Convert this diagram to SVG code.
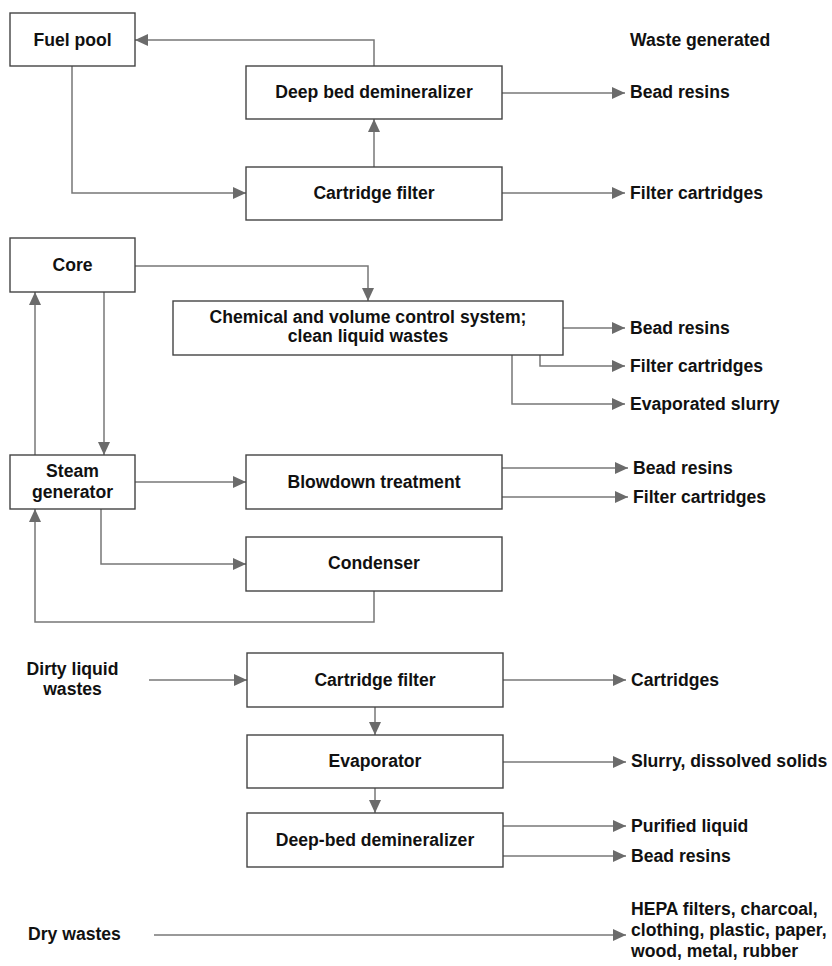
<svg xmlns="http://www.w3.org/2000/svg" width="832" height="966" viewBox="0 0 832 966">
<defs>
<style>
.box{fill:#fff;stroke:#444;stroke-width:1.4}
.t{font-family:"Liberation Sans",Arial,sans-serif;font-weight:bold;font-size:17.6px;fill:#111}
.c{text-anchor:middle}
.ln{fill:none;stroke:#777;stroke-width:1.5}
</style>
<marker id="ah" markerUnits="userSpaceOnUse" markerWidth="14" markerHeight="13" refX="13" refY="6" orient="auto">
<path d="M0,0 L13,6 L0,12 Z" fill="#6b6b6b"/>
</marker>
</defs>
<rect width="832" height="966" fill="#fff"/>

<g id="connectors">
<path class="ln" d="M374,66 V40 H135" marker-end="url(#ah)"/>
<path class="ln" d="M72,66 V193 H246" marker-end="url(#ah)"/>
<path class="ln" d="M374,167 V119" marker-end="url(#ah)"/>
<path class="ln" d="M502,93 H625" marker-end="url(#ah)"/>
<path class="ln" d="M502,193 H625" marker-end="url(#ah)"/>

<path class="ln" d="M135,266 H368 V301" marker-end="url(#ah)"/>
<path class="ln" d="M35,455 V292" marker-end="url(#ah)"/>
<path class="ln" d="M104,292 V455" marker-end="url(#ah)"/>
<path class="ln" d="M563,328 H625" marker-end="url(#ah)"/>
<path class="ln" d="M540,355 V366 H625" marker-end="url(#ah)"/>
<path class="ln" d="M512,355 V404 H625" marker-end="url(#ah)"/>
<path class="ln" d="M135,482 H246" marker-end="url(#ah)"/>
<path class="ln" d="M502,468 H628" marker-end="url(#ah)"/>
<path class="ln" d="M502,497 H628" marker-end="url(#ah)"/>
<path class="ln" d="M101,509 V564 H246" marker-end="url(#ah)"/>
<path class="ln" d="M374,591 V622 H35 V509" marker-end="url(#ah)"/>

<path class="ln" d="M149,680 H247" marker-end="url(#ah)"/>
<path class="ln" d="M503,680 H626" marker-end="url(#ah)"/>
<path class="ln" d="M375,707 V735" marker-end="url(#ah)"/>
<path class="ln" d="M503,762 H626" marker-end="url(#ah)"/>
<path class="ln" d="M375,788 V813" marker-end="url(#ah)"/>
<path class="ln" d="M503,826 H626" marker-end="url(#ah)"/>
<path class="ln" d="M503,856 H626" marker-end="url(#ah)"/>
<path class="ln" d="M154,935 H626" marker-end="url(#ah)"/>
</g>

<g id="fuel-pool"><rect class="box" x="10" y="13" width="125" height="53"/><text class="t c" x="72.5" y="46">Fuel pool</text></g>
<g id="waste-generated"><text class="t" x="630" y="46">Waste generated</text></g>
<g id="deep-bed-1"><rect class="box" x="246" y="66" width="256" height="53"/><text class="t c" x="374" y="98">Deep bed demineralizer</text></g>
<g id="out-bead-1"><text class="t" x="630" y="98">Bead resins</text></g>
<g id="cartridge-1"><rect class="box" x="246" y="167" width="256" height="53"/><text class="t c" x="374" y="199">Cartridge filter</text></g>
<g id="out-filter-1"><text class="t" x="630" y="199">Filter cartridges</text></g>

<g id="core"><rect class="box" x="10" y="238" width="125" height="54"/><text class="t c" x="72.5" y="271">Core</text></g>
<g id="cvcs"><rect class="box" x="173" y="301" width="390" height="54"/><text class="t c" x="368" y="323">Chemical and volume control system;</text><text class="t c" x="368" y="342">clean liquid wastes</text></g>
<g id="out-bead-2"><text class="t" x="630" y="334">Bead resins</text></g>
<g id="out-filter-2"><text class="t" x="630" y="372">Filter cartridges</text></g>
<g id="out-slurry"><text class="t" x="630" y="410">Evaporated slurry</text></g>

<g id="steam-generator"><rect class="box" x="10" y="455" width="125" height="54"/><text class="t c" x="72.5" y="477">Steam</text><text class="t c" x="72.5" y="498">generator</text></g>
<g id="blowdown"><rect class="box" x="246" y="455" width="256" height="54"/><text class="t c" x="374" y="488">Blowdown treatment</text></g>
<g id="out-bead-3"><text class="t" x="633" y="474">Bead resins</text></g>
<g id="out-filter-3"><text class="t" x="633" y="503">Filter cartridges</text></g>
<g id="condenser"><rect class="box" x="246" y="537" width="256" height="54"/><text class="t c" x="374" y="569">Condenser</text></g>

<g id="dirty-liquid"><text class="t c" x="72.5" y="675">Dirty liquid</text><text class="t c" x="72.5" y="695">wastes</text></g>
<g id="cartridge-2"><rect class="box" x="247" y="653" width="256" height="54"/><text class="t c" x="375" y="686">Cartridge filter</text></g>
<g id="out-cartridges"><text class="t" x="631" y="686">Cartridges</text></g>
<g id="evaporator"><rect class="box" x="247" y="735" width="256" height="53"/><text class="t c" x="375" y="767">Evaporator</text></g>
<g id="out-slurry-2"><text class="t" x="631" y="767">Slurry, dissolved solids</text></g>
<g id="deep-bed-2"><rect class="box" x="247" y="813" width="256" height="54"/><text class="t c" x="375" y="846">Deep-bed demineralizer</text></g>
<g id="out-purified"><text class="t" x="631" y="832">Purified liquid</text></g>
<g id="out-bead-4"><text class="t" x="631" y="862">Bead resins</text></g>

<g id="dry-wastes"><text class="t" x="28" y="940">Dry wastes</text></g>
<g id="out-dry"><text class="t" x="631" y="915">HEPA filters, charcoal,</text><text class="t" x="631" y="936">clothing, plastic, paper,</text><text class="t" x="631" y="957">wood, metal, rubber</text></g>
</svg>
